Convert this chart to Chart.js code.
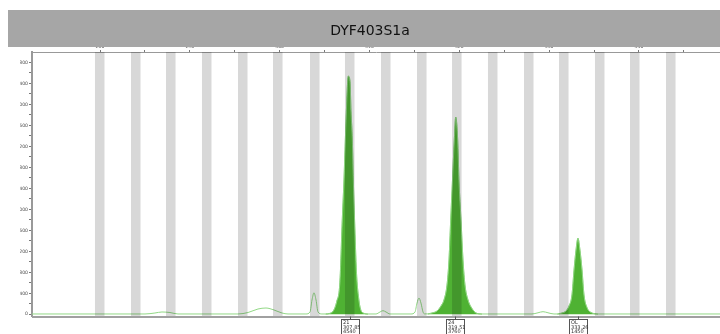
<!DOCTYPE html>
<html><head><meta charset="utf-8">
<script src="https://cdn.jsdelivr.net/npm/chart.js@4.4.1/dist/chart.umd.min.js"></script>
<style>html,body{margin:0;padding:0;background:#fff}#wrap{width:720px;height:334px}</style>
</head><body><div id="wrap"><canvas id="c" width="720" height="334"></canvas></div>
<script>
// ---- data (base pairs / RFU) ----
const chartTitle = 'DYF403S1a';
const xTickValues = [280,285,290,295,300,305,310,315,320,325,330,335,340,345];
const yTickValues = [0,200,400,600,800,1000,1200,1400,1600,1800,2000,2200,2400,2600,2800,3000,3200,3400,3600,3800,4000,4200,4400,4600,4800];
const binCenters = [279.97,283.98,287.88,291.88,295.89,299.79,303.91,307.80,311.81,315.82,319.72,323.72,327.73,331.63,335.63,339.53,343.54];
const binWidth = 1.06;

const baselineSize = [272.43, 349.02];
const baselineRfu  = [6, 6];
const bumpASize = [285.01,286.12,286.90,287.79,288.68];
const bumpARfu  = [6,25,44,34,6];
const bumpBSize = [295.36,296.48,297.59,298.48,299.37,300.26,300.93];
const bumpBRfu  = [6,34,101,120,82,25,6];
const stutter1Size = [302.93,303.38,303.60,303.82,304.05,304.27,304.71];
const stutter1Rfu  = [6,44,272,411,272,44,6];
const peak1Size = [305.10,305.60,306.00,306.35,306.70,306.97,307.16,307.31,307.47,307.57,307.64,307.83,307.94,308.09,308.20,308.34,308.55,308.80,309.00,309.35,309.85];
const peak1Rfu  = [6,18,70,240,600,1800,2560,3320,4060,4440,4540,4440,3880,3320,2560,1800,800,300,100,20,6];
const bumpCSize = [310.72,311.17,311.50,311.84,312.28];
const bumpCRfu  = [6,44,69,44,6];
const stutter2Size = [314.62,315.07,315.29,315.51,315.73,315.96,316.12];
const stutter2Rfu  = [6,44,215,310,215,44,8];
const peak2Size = [316.50,316.96,317.52,317.96,318.29,318.63,318.85,319.04,319.24,319.44,319.60,319.82,319.96,320.19,320.41,320.63,320.97,321.41,321.86,322.52];
const peak2Rfu  = [8,25,63,158,272,558,1034,1796,2558,3320,3760,3320,2558,1796,1034,558,272,110,25,6];
const bumpDSize = [328.09,328.76,329.32,329.87,330.54];
const bumpDRfu  = [6,29,50,29,6];
const peak3Size = [330.90,331.43,331.88,332.21,332.54,332.77,332.99,333.21,333.43,333.66,333.88,334.21,334.66,335.44];
const peak3Rfu  = [6,25,63,158,367,844,1225,1450,1225,844,367,130,34,6];

const peakAlleles = ['21','24','OL'];
const peakSizes   = [307.85, 319.51, 333.26];
const peakHeights = [4540, 3760, 1450];

// ---- build ----
function pts(xs, ys){ return xs.map((x,i)=>({x:x, y:ys[i]})); }
const traceData = [].concat(
  pts([baselineSize[0]],[baselineRfu[0]]),
  pts(bumpASize,bumpARfu), pts(bumpBSize,bumpBRfu), pts(stutter1Size,stutter1Rfu),
  pts(peak1Size,peak1Rfu), pts(bumpCSize,bumpCRfu), pts(stutter2Size,stutter2Rfu),
  pts(peak2Size,peak2Rfu), pts(bumpDSize,bumpDRfu), pts(peak3Size,peak3Rfu),
  pts([baselineSize[1]],[baselineRfu[1]])
);

const FILL = '#4fb233';
const TRACE = '#92d886';
const tiny = {family:'DejaVu Sans', size:4.6};

const bandPlugin = {
  id:'band',
  beforeDraw(chart){
    const c = chart.ctx;
    c.save();
    c.fillStyle = '#a6a6a6';
    c.fillRect(8, 10, 712, 37);
    c.restore();
  }
};
const binPlugin = {
  id:'bins',
  afterDatasetsDraw(chart){
    const c = chart.ctx, xs = chart.scales.x, a = chart.chartArea;
    c.save();
    c.beginPath(); c.rect(a.left, a.top, a.right-a.left, a.bottom-a.top); c.clip();
    c.globalCompositeOperation = 'multiply';
    c.fillStyle = 'rgb(216,216,216)';
    binCenters.forEach(b=>{
      const l = xs.getPixelForValue(b - binWidth/2), r = xs.getPixelForValue(b + binWidth/2);
      c.fillRect(l, a.top, r-l, a.bottom-a.top);
    });
    c.restore();
  }
};
const labelPlugin = {
  id:'peaklabels',
  afterDraw(chart){
    const c = chart.ctx, xs = chart.scales.x, a = chart.chartArea;
    c.save();
    c.strokeStyle = '#a0a0a0'; c.lineWidth = 2;
    c.beginPath(); c.moveTo(a.left, a.bottom+0.5); c.lineTo(a.right, a.bottom+0.5); c.stroke();
    c.font = '5px "DejaVu Sans"'; c.textBaseline = 'middle'; c.textAlign = 'left';
    peakSizes.forEach((s,i)=>{
      const px = Math.round(xs.getPixelForValue(s));
      const top = a.bottom + 2.5;
      c.strokeStyle = '#555'; c.lineWidth = 1;
      c.beginPath(); c.moveTo(px+0.5, a.bottom); c.lineTo(px+0.5, top); c.stroke();
      c.fillStyle = '#fff';
      c.fillRect(px-9, top, 18, 30);
      c.strokeRect(px-8.5, top+0.5, 18, 30);
      c.fillStyle = '#333';
      c.fillText(peakAlleles[i], px-7, top+4);
      c.fillText(peakSizes[i].toFixed(2), px-7, top+8.5);
      c.fillText(String(peakHeights[i]), px-7, top+13);
    });
    c.restore();
  }
};

const fillDs = (xs, ys) => ({
  data: pts(xs, ys), fill:'origin', backgroundColor: FILL, borderColor: FILL,
  borderWidth: 0.5, pointRadius: 0, cubicInterpolationMode:'monotone', order: 2
});

new Chart(document.getElementById('c'), {
  type:'line',
  data:{ datasets:[
    { data: traceData, borderColor: TRACE, borderWidth: 1, pointRadius: 0, fill:false,
      cubicInterpolationMode:'monotone', order: 1 },
    fillDs(peak1Size, peak1Rfu), fillDs(peak2Size, peak2Rfu), fillDs(peak3Size, peak3Rfu)
  ]},
  options:{
    responsive:false, animation:false, devicePixelRatio:1,
    layout:{ padding:{ left:20, right:0, top:0, bottom:17.5 } },
    plugins:{
      legend:{ display:false }, tooltip:{ enabled:false },
      title:{ display:true, text: chartTitle, color:'#111', fullSize:true,
        font:{ family:'DejaVu Sans', size:14, weight:'normal' }, padding:{ top:22.6, bottom:7.6 } }
    },
    scales:{
      x:{ type:'linear', position:'top', min:272.43, max:349.02,
        afterBuildTicks(s){ s.ticks = xTickValues.map(v=>({value:v})); },
        afterFit(s){ s.height = 5; },
        ticks:{ autoSkip:false, maxRotation:0, padding:0, color:'#555', font: tiny,
          callback:(v)=> (v % 10 === 0 ? String(v) : '') },
        grid:{ display:true, drawOnChartArea:false, drawTicks:true, tickLength:2, color:'#777' },
        border:{ display:true, color:'#999', width:1 }
      },
      y:{ type:'linear', min:-42, max:5000,
        afterBuildTicks(s){ s.ticks = yTickValues.map(v=>({value:v})); },
        afterFit(s){ s.width = 12; },
        ticks:{ autoSkip:false, padding:1, color:'#555', font: tiny,
          callback:(v)=> (v % 400 === 0 ? String(v) : '') },
        grid:{ display:true, drawOnChartArea:false, drawTicks:true, tickLength:3, color:'#777' },
        border:{ display:true, color:'#999', width:2 }
      }
    }
  },
  plugins:[bandPlugin, binPlugin, labelPlugin]
});
</script>
</body></html>
